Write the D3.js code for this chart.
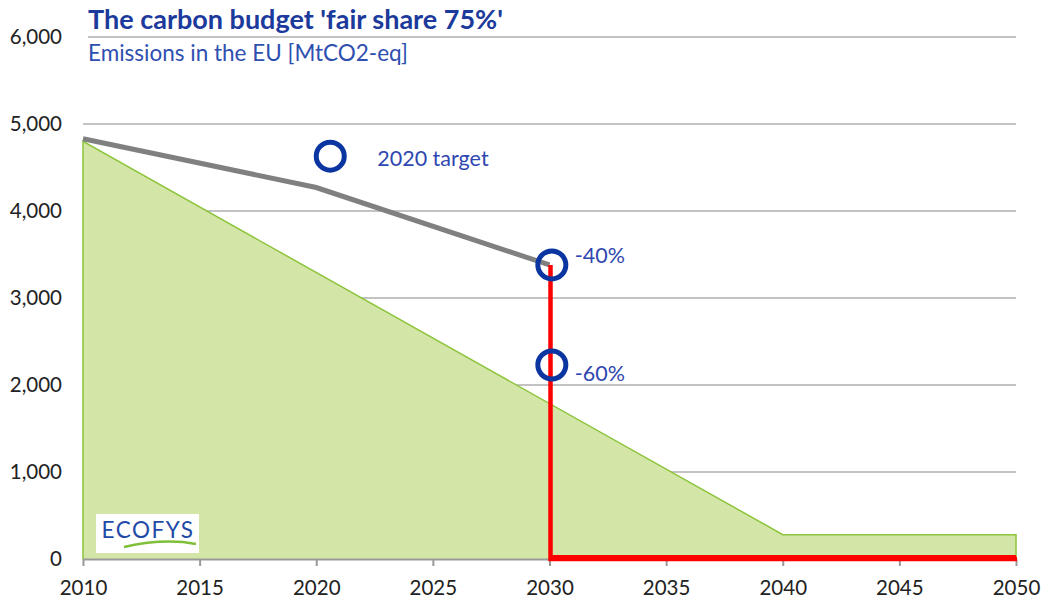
<!DOCTYPE html>
<html>
<head>
<meta charset="utf-8">
<script src="https://cdn.jsdelivr.net/npm/d3@7"></script>
<style>
  body { margin: 0; background: #fff; }
  text { font-family: Lato, "Open Sans", sans-serif; }
</style>
</head>
<body>
<div id="chart"></div>
<script>
// budget area (fair share 75%)
const budgetYears = [2010, 2040, 2050, 2050];
const budgetValues = [4800, 280, 280, 0];
// historic / projected emissions
const pathYears = [2010, 2020, 2030];
const pathValues = [4830, 4270, 3380];
// drop to zero after 2030
const redYears = [2030, 2030, 2050];
const redValues = [3380, 0, 0];
// target markers
const markers = [
  { year: 2020.6, value: 4630, label: "2020 target" },
  { year: 2030.1, value: 3380, label: "-40%" },
  { year: 2030.1, value: 2230, label: "-60%" }
];
const xTicks = [2010, 2015, 2020, 2025, 2030, 2035, 2040, 2045, 2050];
const yTicks = [0, 1000, 2000, 3000, 4000, 5000, 6000];

const width = 1041, height = 602;
const margin = { top: 37, right: 25, bottom: 43, left: 83 };

const svg = d3.select("#chart").append("svg")
  .attr("width", width)
  .attr("height", height);

const x = d3.scaleLinear().domain([2010, 2050]).range([margin.left, width - margin.right]);
const y = d3.scaleLinear().domain([0, 6000]).range([height - margin.bottom, margin.top]);

// gridlines
svg.append("g")
  .selectAll("line")
  .data(yTicks.filter(d => d > 0))
  .enter().append("line")
    .attr("x1", d => d === 6000 ? 88 : x(2010))
    .attr("x2", x(2050))
    .attr("y1", d => y(d))
    .attr("y2", d => y(d))
    .attr("stroke", "#c3c3c3")
    .attr("stroke-width", 2);

// y labels
svg.append("g")
  .selectAll("text")
  .data(yTicks)
  .enter().append("text")
    .attr("x", 62)
    .attr("y", d => y(d) + 7)
    .attr("text-anchor", "end")
    .attr("font-size", 20.5)
    .attr("fill", "#222")
    .text(d => d3.format(",")(d));

// budget area
const pts = budgetYears.map((d, i) => [d, budgetValues[i]]);
const area = d3.area().x(d => x(d[0])).y0(y(0)).y1(d => y(d[1]));
svg.append("path")
  .datum(pts)
  .attr("fill", "#d4e6a7")
  .attr("d", area);
svg.append("path")
  .datum([[2010, 0]].concat(pts))
  .attr("fill", "none")
  .attr("stroke", "#8cc43c")
  .attr("stroke-width", 1.5)
  .attr("d", d3.line().x(d => x(d[0])).y(d => y(d[1])));

// x axis
const xAxis = svg.append("g")
  .attr("transform", `translate(0,${y(0)})`)
  .call(d3.axisBottom(x).tickValues(xTicks).tickFormat(d3.format("d")).tickSize(7).tickSizeOuter(0));
xAxis.select(".domain").attr("stroke", "#999").attr("stroke-width", 2);
xAxis.selectAll(".tick line").attr("stroke", "#999").attr("stroke-width", 2);
xAxis.selectAll(".tick text")
  .attr("font-family", "Lato, 'Open Sans', sans-serif")
  .attr("font-size", 20.5)
  .attr("fill", "#222")
  .attr("y", 36)
  .attr("dy", 0);

// grey emission path
svg.append("path")
  .datum(pathYears.map((d, i) => [d, pathValues[i]]))
  .attr("fill", "none")
  .attr("stroke", "#808080")
  .attr("stroke-width", 5)
  .attr("d", d3.line().x(d => x(d[0])).y(d => y(d[1])));

// red drop
svg.append("path")
  .datum(redYears.map((d, i) => [d, redValues[i]]))
  .attr("fill", "none")
  .attr("stroke", "#ff0000")
  .attr("stroke-width", 4.5)
  .attr("d", d3.line().x(d => x(d[0]) + 1).y(d => y(d[1])));
svg.append("line")
  .attr("x1", x(2030)).attr("x2", x(2050))
  .attr("y1", y(0) - 1).attr("y2", y(0) - 1)
  .attr("stroke", "#ff0000")
  .attr("stroke-width", 6);

// markers
svg.append("g")
  .selectAll("circle")
  .data(markers)
  .enter().append("circle")
    .attr("cx", d => x(d.year))
    .attr("cy", d => y(d.value))
    .attr("r", 14)
    .attr("fill", "none")
    .attr("stroke", "#0b35a0")
    .attr("stroke-width", 5);

svg.append("g")
  .selectAll("text")
  .data(markers)
  .enter().append("text")
    .attr("x", d => x(d.year) + (d.year < 2025 ? 47 : 23))
    .attr("y", (d, i) => y(d.value) + [10, -2, 16][i])
    .attr("font-size", 21.5)
    .attr("fill", "#2f47b0")
    .text(d => d.label);

// title
svg.append("text")
  .attr("x", 88).attr("y", 29)
  .attr("font-size", 27)
  .attr("font-weight", "bold")
  .attr("fill", "#1b3a9c")
  .text("The carbon budget 'fair share 75%'");
svg.append("text")
  .attr("x", 88).attr("y", 61)
  .attr("font-size", 22.5)
  .attr("fill", "#2e4fb0")
  .text("Emissions  in the EU [MtCO2-eq]");

// logo
const logo = svg.append("g").attr("transform", "translate(96,514)");
logo.append("rect").attr("width", 103).attr("height", 39).attr("fill", "#fff");
logo.append("text")
  .attr("x", 52).attr("y", 24)
  .attr("text-anchor", "middle")
  .attr("font-size", 22.5)
  .attr("letter-spacing", 1.5)
  .attr("fill", "#1f4aa8")
  .text("ECOFYS");
logo.append("path")
  .attr("d", "M28,33 Q68,24 100,30")
  .attr("fill", "none")
  .attr("stroke", "#7fbf3a")
  .attr("stroke-width", 2.5);
</script>
</body>
</html>
